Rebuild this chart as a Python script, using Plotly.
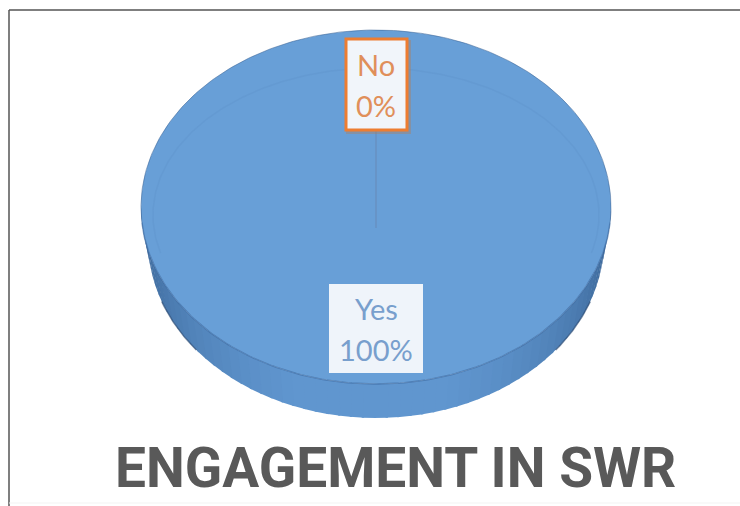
import numpy as np
import plotly.graph_objects as go

# Survey result shown as a tilted pie
categories = ["Yes", "No"]
shares = [100, 0]
slice_colors = ["#689fd7", "#ed7d31"]
chart_title = "ENGAGEMENT IN SWR"

W, H = 740, 506
CX, CY, RX, RY = 376, 207, 235, 177      # top face of the disc
BX, BY, BRX, BRY = 376, 241, 228, 177    # lower rim of the disc


def ellipse(cx, cy, rx, ry, deg):
    """Clockwise angle from 12 o'clock to a point on an ellipse."""
    rad = np.radians(deg)
    return cx + rx * np.sin(rad), cy - ry * np.cos(rad)


fig = go.Figure()

# Side wall of the disc, shaded from dark at both ends to lighter in front
side_steps = np.arange(90, 270, 3)
for start in side_steps:
    arc = np.linspace(start, start + 3.6, 5)
    tx, ty = ellipse(CX, CY, RX, RY, arc)
    bx, by = ellipse(BX, BY, BRX, BRY, arc[::-1])
    t = abs(start - 180) / 90
    t = max(0.0, (t - 0.2) / 0.8)
    shade = (
        int(96 - 40 * t ** 1.3),
        int(150 - 52 * t ** 1.3),
        int(207 - 60 * t ** 1.3),
    )
    fig.add_trace(go.Scatter(
        x=np.r_[tx, bx], y=np.r_[ty, by], mode="lines", fill="toself",
        fillcolor=f"rgb{shade}", line=dict(width=0), hoverinfo="skip",
    ))

# Top face: one wedge per category, sized by its share
total = sum(shares)
angle = 0.0
for name, share, color in zip(categories, shares, slice_colors):
    sweep = 360 * share / total
    if sweep > 0:
        arc = np.linspace(angle, angle + sweep, 240)
        ax, ay = ellipse(CX, CY, RX, RY, arc)
        fig.add_trace(go.Scatter(
            x=np.r_[CX, ax, CX], y=np.r_[CY, ay, CY], mode="lines", fill="toself",
            fillcolor=color, line=dict(width=0), name=name, hoverinfo="skip",
        ))
    angle += sweep

# Faint bevel ring over the back half, thin upper outline and dark front rim
ring_x, ring_y = ellipse(CX, CY + 8, RX - 12, RY - 30, np.linspace(-105, 105, 200))
fig.add_trace(go.Scatter(x=ring_x, y=ring_y, mode="lines", hoverinfo="skip",
                         line=dict(color="rgba(70,115,165,0.09)", width=1.5)))
top_x, top_y = ellipse(CX, CY, RX, RY, np.linspace(-95, 95, 200))
fig.add_trace(go.Scatter(x=top_x, y=top_y, mode="lines", hoverinfo="skip",
                         line=dict(color="rgba(60,100,150,0.55)", width=1)))
rim_x, rim_y = ellipse(CX, CY, RX, RY, np.linspace(95, 265, 160))
fig.add_trace(go.Scatter(x=rim_x, y=rim_y, mode="lines", hoverinfo="skip",
                         line=dict(color="rgba(60,105,160,0.6)", width=1.5)))
# Deep shadow on the two outer ends of the wall
for lo, hi in ((110, 128), (232, 250)):
    edge_x, edge_y = ellipse(BX, BY, BRX, BRY, np.linspace(lo, hi, 30))
    fig.add_trace(go.Scatter(x=edge_x, y=edge_y, mode="lines", hoverinfo="skip",
                             line=dict(color="rgba(45,75,115,0.65)", width=1.5)))

# Leader from the "No" label down to the centre
fig.add_shape(type="line", x0=376, x1=376, y0=130, y1=228,
              line=dict(color="rgba(100,125,160,0.40)", width=1.5))

# Soft shadow and box of the "No" label, then the "Yes" box
fig.add_shape(type="rect", x0=346, x1=411, y0=40, y1=134, line_width=0,
              fillcolor="rgba(190,120,70,0.35)")
fig.add_shape(type="rect", x0=346, x1=407, y0=39, y1=130,
              fillcolor="#f1f5fa", line=dict(color="#ed7d31", width=3))
fig.add_shape(type="rect", x0=329, x1=423, y0=284, y1=373,
              fillcolor="#eff4fa", line_width=0)

# Each label is two lines: category name above, share below
label_rows = {"Yes": (308, 349), "No": (64, 105)}
label_colors = {"Yes": "#789fcd", "No": "#e08f5a"}
for name, share in zip(categories, shares):
    top, bottom = label_rows[name]
    for text, row in ((name, top), (f"{share}%", bottom)):
        fig.add_annotation(x=376, y=row, text=text, showarrow=False,
                           font=dict(family="Lato", size=29, color=label_colors[name]))

fig.add_annotation(x=395, y=468, text=f"<b>{chart_title}</b>", showarrow=False,
                   font=dict(family="Roboto", size=55, color="#595959"))

# Thin frame along the top and left of the panel, faint rule at the foot
fig.add_shape(type="line", x0=9, x1=740, y0=10, y1=10, line=dict(color="#555555", width=1.5))
fig.add_shape(type="line", x0=9, x1=9, y0=10, y1=506, line=dict(color="#555555", width=1.5))
fig.add_shape(type="line", x0=9, x1=740, y0=503, y1=503, line=dict(color="#f3f3f3", width=1))

fig.update_layout(
    width=W, height=H, autosize=False, showlegend=False,
    margin=dict(l=0, r=0, t=0, b=0),
    paper_bgcolor="white", plot_bgcolor="white",
    xaxis=dict(range=[0, W], visible=False, fixedrange=True),
    yaxis=dict(range=[H, 0], visible=False, fixedrange=True),
)
fig.write_html("out.html", config={"displayModeBar": False})
